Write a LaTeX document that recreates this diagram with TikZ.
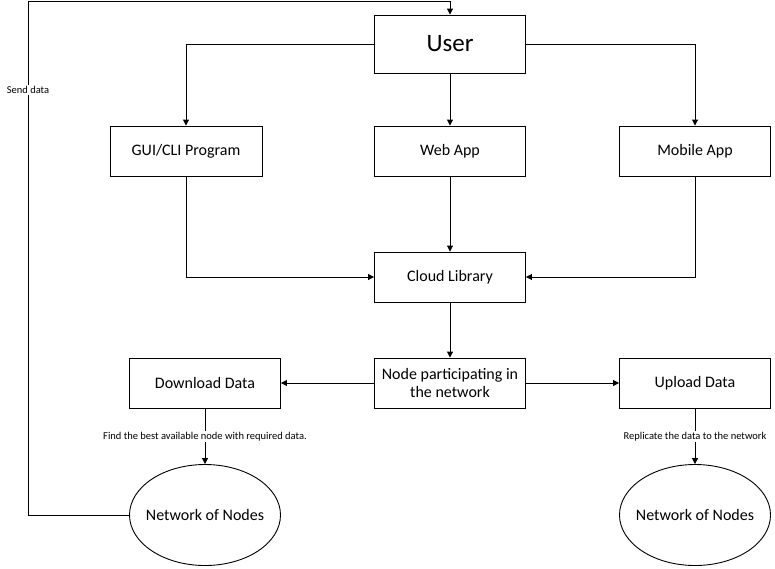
\documentclass[tikz,border=0pt]{standalone}
\usepackage{fontspec}
\setmainfont{Carlito}
\usetikzlibrary{arrows.meta,shapes.geometric}
\begin{document}
\begin{tikzpicture}[x=1pt,y=-1pt,
  box/.style={draw,line width=0.9pt,minimum width=151pt,minimum height=50pt,inner sep=2pt,align=center,font=\fontsize{16}{19}\selectfont},
  oval/.style={draw,ellipse,line width=0.9pt,minimum width=151pt,minimum height=101pt,inner sep=0pt,font=\fontsize{16}{19}\selectfont},
  conn/.style={draw,line width=0.9pt,-{Triangle[length=6pt,width=6pt]}},
  lbl/.style={fill=white,inner sep=1pt,font=\fontsize{10.5}{12}\selectfont}]
\useasboundingbox (0,0) rectangle (775,568);
\node[box,minimum height=58pt,font=\fontsize{25}{30}\selectfont] (user) at (450,44) {User};
\node[box,minimum width=152pt] (gui) at (186,151) {GUI/CLI Program};
\node[box] (web) at (450,151) {Web App};
\node[box] (mob) at (695,151) {Mobile App};
\node[box] (cloud) at (450,277) {Cloud Library};
\node[box] (npn) at (450,383) {Node participating in\\[-1pt]the network};
\node[box] (down) at (205,383) {Download Data};
\node[box] (up) at (695,383) {Upload Data};
\node[oval] (netl) at (205,515) {\makebox[0pt]{Network of Nodes}};
\node[oval] (netr) at (695,515) {\makebox[0pt]{Network of Nodes}};
\coordinate (lc) at (28,1);
\draw[conn] (user.west) -| (gui.north);
\draw[conn] (user.south) -- (web.north);
\draw[conn] (user.east) -| (mob.north);
\draw[conn] (gui.south) |- (cloud.west);
\draw[conn] (web.south) -- (cloud.north);
\draw[conn] (mob.south) |- (cloud.east);
\draw[conn] (cloud.south) -- (npn.north);
\draw[conn] (npn.west) -- (down.east);
\draw[conn] (npn.east) -- (up.west);
\draw[conn] (down.south) -- node[lbl,pos=0.5] {Find the best available node with required data.} (netl.north);
\draw[conn] (up.south) -- node[lbl,pos=0.5] {Replicate the data to the network} (netr.north);
\draw[conn] (netl.west) -| (lc) -| (user.north);
\node[lbl] (sd) at (28,90) {Send data};
\end{tikzpicture}
\end{document}
